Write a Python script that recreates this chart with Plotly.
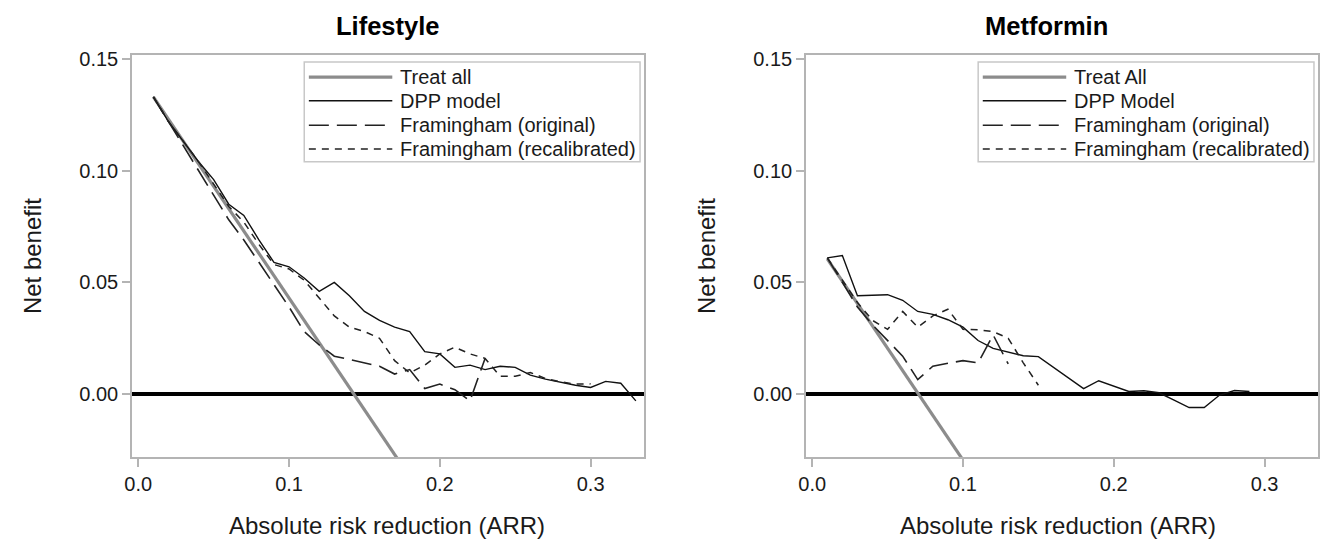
import plotly.graph_objects as go

# ---------------- data ----------------
ARR = [0.01, 0.02, 0.03, 0.04, 0.05, 0.06, 0.07, 0.08, 0.09, 0.10,
       0.11, 0.12, 0.13, 0.14, 0.15, 0.16, 0.17, 0.18, 0.19, 0.20,
       0.21, 0.22, 0.23, 0.24, 0.25, 0.26, 0.27, 0.28, 0.29, 0.30,
       0.31, 0.32, 0.33]

# Lifestyle panel
ls_treat_all = [0.133, 0.123, 0.113, 0.103, 0.093, 0.083, 0.073, 0.063, 0.053,
                0.043, 0.033, 0.023, 0.013, 0.003, -0.007, -0.017, -0.027, -0.037]
ls_dpp = [0.133, 0.122, 0.113, 0.104, 0.096, 0.085, 0.080, 0.069, 0.059, 0.057,
          0.052, 0.046, 0.050, 0.044, 0.037, 0.033, 0.030, 0.028, 0.019, 0.018,
          0.012, 0.013, 0.011, 0.0125, 0.012, 0.0085, 0.0067, 0.0052, 0.004, 0.003,
          0.0057, 0.0049, -0.003]
ls_fram_orig = [0.133, 0.122, 0.111, 0.100, 0.089, 0.078, 0.069, 0.059, 0.049, 0.039,
                0.028, 0.022, 0.017, 0.0155, 0.014, 0.0125, 0.009, 0.011, 0.0025, 0.0045,
                0.002, -0.003, 0.016]
ls_fram_recal = [0.133, 0.122, 0.113, 0.104, 0.094, 0.084, 0.077, 0.067, 0.058, 0.056,
                 0.051, 0.043, 0.035, 0.030, 0.028, 0.025, 0.015, 0.0095, 0.013, 0.018,
                 0.021, 0.018, 0.016, 0.008, 0.008, 0.0097, 0.007, 0.0055, 0.0045, 0.0046]

# Metformin panel
mf_treat_all = [0.0605, 0.0505, 0.0405, 0.0305, 0.0205, 0.0105, 0.0005, -0.0095,
                -0.0195, -0.0295, -0.0395]
mf_dpp = [0.061, 0.062, 0.044, 0.0442, 0.0445, 0.042, 0.037, 0.0357, 0.0333, 0.030,
          0.024, 0.0205, 0.019, 0.0172, 0.0168, 0.012, 0.0072, 0.0025, 0.006, 0.0035,
          0.0012, 0.0015, 0.0006, -0.0027, -0.006, -0.006, -0.0005, 0.0016, 0.0012]
mf_fram_orig = [0.061, 0.050, 0.039, 0.031, 0.024, 0.017, 0.0065, 0.0125, 0.0138, 0.015,
                0.014, 0.0265, 0.0135]
mf_fram_recal = [0.061, 0.051, 0.041, 0.033, 0.029, 0.037, 0.030, 0.035, 0.038, 0.029,
                 0.0288, 0.028, 0.025, 0.014, 0.004]

panel_titles = ["Lifestyle", "Metformin"]
legend_labels = [
    ["Treat all", "DPP model", "Framingham (original)", "Framingham (recalibrated)"],
    ["Treat All", "DPP Model", "Framingham (original)", "Framingham (recalibrated)"],
]
x_ticks = [0.0, 0.1, 0.2, 0.3]
y_ticks = [0.00, 0.05, 0.10, 0.15]
x_title = "Absolute risk reduction (ARR)"
y_title = "Net benefit"

# ---------------- styling ----------------
FONT = "Liberation Sans, Arial, sans-serif"
TXT = "#1a1a1a"
FRAME = "#b4b4b4"
W, H = 1330, 547
STYLES = [
    dict(color="#8c8c8c", width=3.2, dash="solid"),
    dict(color="#111111", width=1.4, dash="solid"),
    dict(color="#222222", width=1.6, dash="20px,8px"),
    dict(color="#222222", width=1.5, dash="7px,6px"),
]

fig = go.Figure()

panels = [
    (ls_treat_all, ls_dpp, ls_fram_orig, ls_fram_recal),
    (mf_treat_all, mf_dpp, mf_fram_orig, mf_fram_recal),
]
for p, series in enumerate(panels):
    xa = "x" if p == 0 else "x2"
    ya = "y" if p == 0 else "y2"
    for s, (ys, st) in enumerate(zip(series, STYLES)):
        fig.add_trace(go.Scatter(
            x=ARR[:len(ys)], y=ys, mode="lines", xaxis=xa, yaxis=ya,
            name=legend_labels[p][s], showlegend=False,
            line=dict(color=st["color"], width=st["width"], dash=st["dash"]),
            hoverinfo="skip"))

# plot area pixel boxes
px_left = [125, 803]
px_right = [640, 1318]
px_top, px_bot = 49, 456
y_dom = [1 - px_bot / H, 1 - px_top / H]
title_cx = [382, 1045]
xtitle_cx = [381, 1056]

axis_common = dict(
    showgrid=False, showline=True, linecolor=FRAME, linewidth=2, mirror=True,
    ticks="outside", ticklen=8, tickwidth=1.5, tickcolor=FRAME,
    tickfont=dict(family=FONT, size=20, color=TXT),
)
layout_axes = {}
for p in range(2):
    sfx = "" if p == 0 else "2"
    layout_axes["xaxis" + sfx] = dict(
        axis_common, domain=[px_left[p] / W, px_right[p] / W],
        range=[-0.004, 0.3355], tickvals=x_ticks, tickformat=".1f",
        zeroline=False, anchor="y" + sfx)
    layout_axes["yaxis" + sfx] = dict(
        axis_common, domain=y_dom, range=[-0.0282, 0.1516],
        tickvals=y_ticks, tickformat=".2f",
        zeroline=True, zerolinecolor="#000000", zerolinewidth=3.5,
        anchor="x" + sfx)

fig.update_layout(
    width=W, height=H, margin=dict(l=0, r=0, t=0, b=0),
    paper_bgcolor="white", plot_bgcolor="white",
    font=dict(family=FONT, color=TXT), showlegend=False,
    **layout_axes)

shapes, annotations = [], []
for p in range(2):
    sfx = "" if p == 0 else "2"
    xd, yd = "x" + sfx + " domain", "y" + sfx + " domain"
    # panel title
    annotations.append(dict(text="<b>" + panel_titles[p] + "</b>", x=title_cx[p] / W, y=1 - 19 / H,
                            xref="paper", yref="paper", showarrow=False,
                            xanchor="center", yanchor="middle",
                            font=dict(family=FONT, size=25.5, color="#000")))
    # axis titles
    annotations.append(dict(text=x_title, x=xtitle_cx[p] / W, y=1 - 525 / H, xref="paper", yref="paper",
                            showarrow=False, xanchor="center", yanchor="middle",
                            font=dict(family=FONT, size=24, color=TXT)))
    annotations.append(dict(text=y_title, x=(px_left[p] - 101) / W, y=(y_dom[0] + y_dom[1]) / 2,
                            xref="paper", yref="paper", showarrow=False, textangle=-90,
                            xanchor="center", yanchor="middle",
                            font=dict(family=FONT, size=24, color=TXT)))
    # legend box
    shapes.append(dict(type="rect", xref=xd, yref=yd, x0=0.336, x1=0.992, y0=0.7354, y1=0.9835,
                       line=dict(color="#c8c8c8", width=1.5), fillcolor="white", layer="above"))
    rows = [0.946, 0.887, 0.826, 0.767]
    for s, st in enumerate(STYLES):
        shapes.append(dict(type="line", xref=xd, yref=yd, x0=0.345, x1=0.508,
                           y0=rows[s], y1=rows[s], layer="above",
                           line=dict(color=st["color"], width=st["width"], dash=st["dash"])))
        annotations.append(dict(text=legend_labels[p][s], x=0.519, y=rows[s], xref=xd, yref=yd,
                                showarrow=False, xanchor="left", yanchor="middle",
                                font=dict(family=FONT, size=20, color=TXT)))

fig.update_layout(shapes=shapes, annotations=annotations)
fig.write_html("out.html")
